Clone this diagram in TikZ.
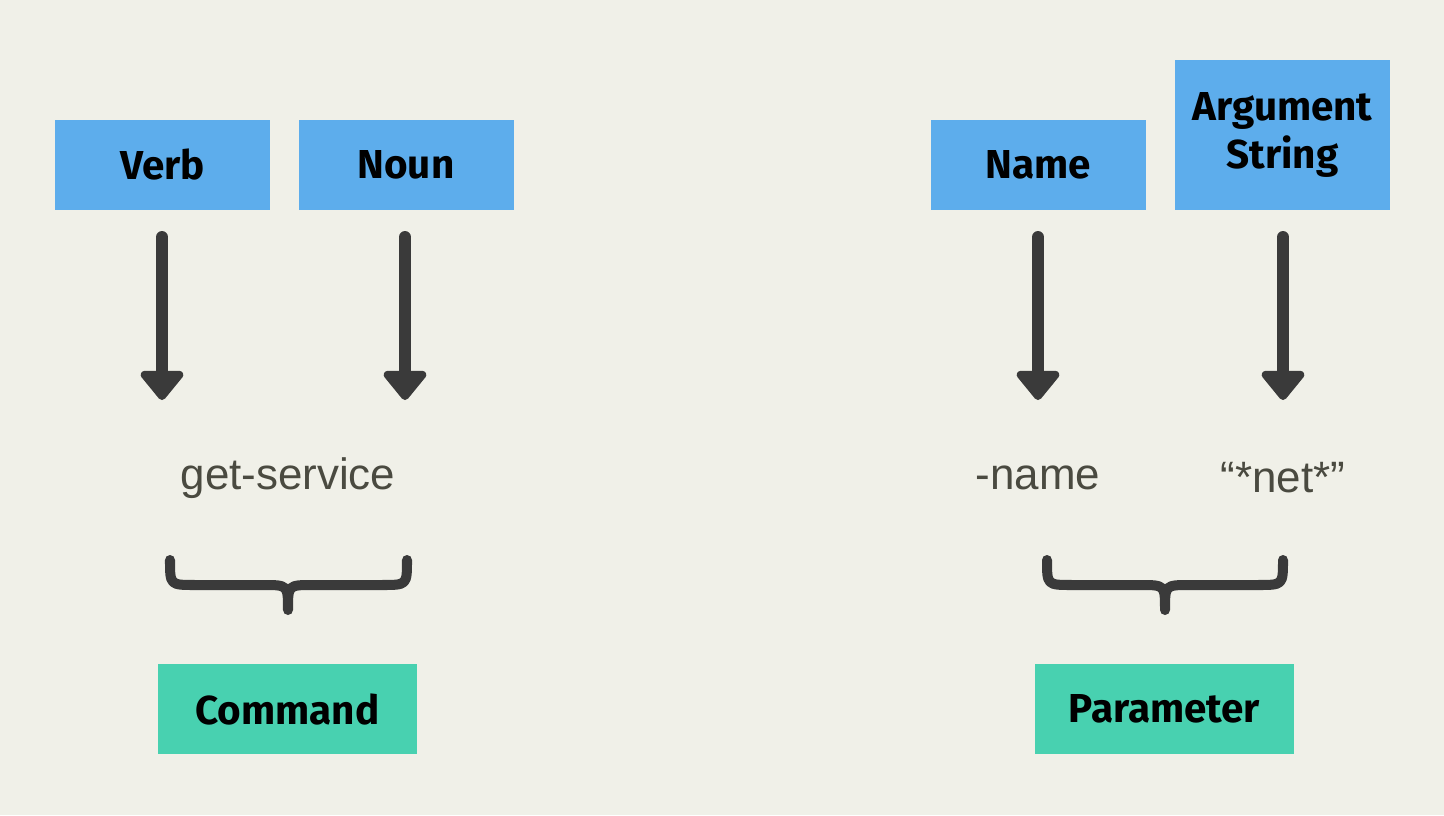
\documentclass[tikz,border=0pt]{standalone}
\usepackage{fontspec}
\setmainfont{Liberation Sans}
\newfontfamily\lab{Fira Sans}
\usetikzlibrary{arrows.meta}
\definecolor{bg}{HTML}{F0F0E8}
\definecolor{blu}{HTML}{5DADEC}
\definecolor{grn}{HTML}{48D1B0}
\definecolor{dk}{HTML}{3A3A3A}
\definecolor{txt}{HTML}{4A4A40}
\begin{document}
\begin{tikzpicture}[x=0.02cm,y=-0.02cm,
 box/.style={fill=#1,inner sep=0,font=\lab\bfseries\fontsize{23}{27}\selectfont,align=center,text=black},
 arr/.style={draw=dk,line width=6.8pt,line cap=round,-{Triangle[width=28pt,length=18pt,round]}},
 word/.style={font=\fontsize{25}{30}\selectfont,text=txt},
 brace/.style={draw=dk,line width=5.7pt,line cap=round,line join=round}]
\fill[bg] (0,0) rectangle (1444,815);
\useasboundingbox (0,0) rectangle (1444,815);
\node[box=blu,minimum width=215*0.02cm,minimum height=90*0.02cm] (verb) at (162.5,165) {Verb};
\node[box=blu,minimum width=215*0.02cm,minimum height=90*0.02cm] (noun) at (406,165) {Noun};
\node[box=blu,minimum width=215*0.02cm,minimum height=90*0.02cm] (name) at (1038.5,165) {Name};
\node[box=blu,minimum width=215*0.02cm,minimum height=150*0.02cm] (arg) at (1282.5,135) {Argument\\String};
\node[box=grn,minimum width=259*0.02cm,minimum height=90*0.02cm] (cmd) at (287.5,709) {Command};
\node[box=grn,minimum width=259*0.02cm,minimum height=90*0.02cm] (par) at (1164.5,709) {Parameter};
\coordinate (a1) at (162,237); \coordinate (b1) at (162,400);
\coordinate (a2) at (405,237); \coordinate (b2) at (405,400);
\coordinate (a3) at (1038,237); \coordinate (b3) at (1038,400);
\coordinate (a4) at (1283,237); \coordinate (b4) at (1283,400);
\foreach \i in {1,2,3,4} \draw[arr] (a\i) -- (b\i);
\node[word] (gs) at (288,478) {get-service};
\node[word] (nm) at (1038,478) {-name};
\node[word] (nt) at (1283,478) {“*net*”};
\draw[brace] (170,560) .. controls (170,585) .. (195,585) -- (263,585) .. controls (288,585) .. (288,610)
  .. controls (288,585) .. (313,585) -- (382,585) .. controls (407,585) .. (407,560);
\draw[brace] (1047,560) .. controls (1047,585) .. (1072,585) -- (1140,585) .. controls (1165,585) .. (1165,610)
  .. controls (1165,585) .. (1190,585) -- (1258,585) .. controls (1283,585) .. (1283,560);
\end{tikzpicture}
\end{document}
